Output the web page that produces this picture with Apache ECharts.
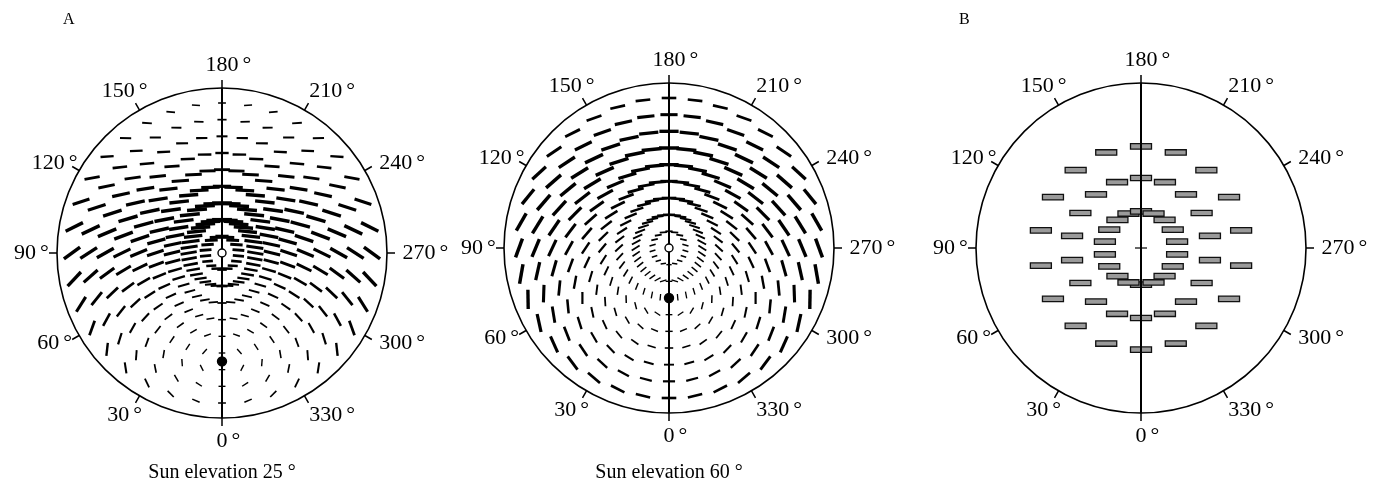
<!DOCTYPE html>
<html>
<head>
<meta charset="utf-8">
<script src="https://cdn.jsdelivr.net/npm/echarts@6/dist/echarts.min.js"></script>
<style>
  html, body { margin: 0; padding: 0; background: #fff; }
  #chart { width: 1379px; height: 488px; }
</style>
</head>
<body>
<div id="chart"></div>
<script>
// ---- data -------------------------------------------------------------
// Sun elevations (degrees) for the two modelled skies of panel A
const sunElevations = [25, 60];
// Zenith angles (degrees) of the sampling rings in panel A
const ringZenith = [10, 20, 30, 40, 50, 60, 70, 80, 90];
// Azimuths (degrees) sampled on the innermost ring, and on all other rings
const innerRingAzimuths = [0, 20, 40, 60, 80, 100, 120, 140, 160, 180, 200, 220, 240, 260, 280, 300, 320, 340];
const ringAzimuths = [0, 10, 20, 30, 40, 50, 60, 70, 80, 90, 100, 110, 120, 130, 140, 150, 160, 170,
  180, 190, 200, 210, 220, 230, 240, 250, 260, 270, 280, 290, 300, 310, 320, 330, 340, 350];
// Panel B: zenith angles of the three rings and the azimuths of their bars
const ringZenithB = [22, 42, 61];
const ringAzimuthsB = [0, 20, 40, 60, 80, 100, 120, 140, 160, 180, 200, 220, 240, 260, 280, 300, 320, 340];
// Azimuth tick labels round each sky dome
const tickAngles = [0, 30, 60, 90, 120, 150, 180, 210, 240, 270, 300, 330];
const panelLetters = ['A', 'B'];

// ---- layout -----------------------------------------------------------
const FONT = '"Liberation Serif", "Times New Roman", serif';
const domeCenters = [[222, 253], [669, 248], [1141, 248]];
const DOME_PX = 165;          // drawn rim radius in pixels
const RIM_DEG = 99;           // zenith angle at the rim (horizon at 90 sits inside)
const INNER_DASH_SCALE = 0.72; // dashes on the smallest ring are drawn shorter
const RAD = Math.PI / 180, DEG = 180 / Math.PI;

function toVec(z, a) {
  const zr = z * RAD, ar = a * RAD;
  return [Math.sin(zr) * Math.cos(ar), Math.sin(zr) * Math.sin(ar), Math.cos(zr)];
}
function toPolar(q) {
  const n = Math.hypot(q[0], q[1], q[2]);
  return [Math.acos(q[2] / n) * DEG, Math.atan2(q[1], q[0]) * DEG];
}
function cross(u, v) {
  return [u[1] * v[2] - u[2] * v[1], u[2] * v[0] - u[0] * v[2], u[0] * v[1] - u[1] * v[0]];
}

// E-vector dashes: perpendicular to the scattering plane, length and weight
// growing with the degree of polarization of single Rayleigh scattering.
function vectorSeries(polarIndex, elevation) {
  const zs = (90 - elevation) * RAD;
  const sun = [Math.sin(zs), 0, Math.cos(zs)];
  const data = [];
  ringZenith.forEach((z, k) => (k === 0 ? innerRingAzimuths : ringAzimuths).forEach(a => data.push([z, a])));
  const innerZ = ringZenith[0];
  return {
    type: 'custom', coordinateSystem: 'polar', polarIndex, data,
    silent: true, animation: false, z: 3,
    renderItem(params, api) {
      const z = api.value(0), a = api.value(1);
      const p = toVec(z, a);
      const cosg = p[0] * sun[0] + p[1] * sun[1] + p[2] * sun[2];
      const e = cross(p, sun);
      const n = Math.hypot(e[0], e[1], e[2]);
      if (n < 1e-6) return null;
      const dop = (1 - cosg * cosg) / (1 + cosg * cosg);
      const eps = 0.01;
      const q1 = [p[0] - eps * e[0] / n, p[1] - eps * e[1] / n, p[2] - eps * e[2] / n];
      const q2 = [p[0] + eps * e[0] / n, p[1] + eps * e[1] / n, p[2] + eps * e[2] / n];
      const c = api.coord([z, a]);
      const c1 = api.coord(toPolar(q1));
      const c2 = api.coord(toPolar(q2));
      let dx = c2[0] - c1[0], dy = c2[1] - c1[1];
      const m = Math.hypot(dx, dy);
      dx /= m; dy /= m;
      const scale = z === innerZ ? INNER_DASH_SCALE : 1;
      const half = (6.5 + 13.5 * dop) * scale / 2;
      return {
        type: 'line',
        shape: { x1: c[0] - dx * half, y1: c[1] - dy * half, x2: c[0] + dx * half, y2: c[1] + dy * half },
        style: { stroke: '#000', lineWidth: 1.3 + 2.2 * dop, lineCap: 'butt' }
      };
    }
  };
}

// Panel B: horizontal outlined bars on three rings
function barSeries(polarIndex) {
  const data = [];
  ringZenithB.forEach(z => ringAzimuthsB.forEach(a => data.push([z, a])));
  return {
    type: 'custom', coordinateSystem: 'polar', polarIndex, data,
    silent: true, animation: false, z: 3,
    renderItem(params, api) {
      const c = api.coord([api.value(0), api.value(1)]);
      return {
        type: 'rect',
        shape: { x: c[0] - 10.5, y: c[1] - 2.7, width: 21, height: 5.4 },
        style: { fill: '#9a9a9a', stroke: '#111', lineWidth: 1.3 }
      };
    }
  };
}

// Solar meridian drawn across the dome
function meridianSeries(polarIndex, withZenithTick) {
  return {
    type: 'custom', coordinateSystem: 'polar', polarIndex, data: [[0, 0]],
    silent: true, animation: false, z: 4,
    renderItem(params, api) {
      const b = api.coord([RIM_DEG, 0]);
      const t = api.coord([RIM_DEG, 180]);
      const c = api.coord([0, 0]);
      const children = [{
        type: 'line', shape: { x1: b[0], y1: b[1], x2: t[0], y2: t[1] },
        style: { stroke: '#000', lineWidth: 2 }
      }];
      if (withZenithTick) {
        children.push({
          type: 'line', shape: { x1: c[0] - 6, y1: c[1], x2: c[0] + 6, y2: c[1] },
          style: { stroke: '#000', lineWidth: 1.2 }
        });
      }
      return { type: 'group', children };
    }
  };
}

// Azimuth labels: digits centred on the anchor, degree sign trailing
function labelSeries(polarIndex) {
  return {
    type: 'custom', coordinateSystem: 'polar', polarIndex,
    data: tickAngles.map(a => [a]),
    silent: true, animation: false, z: 5,
    renderItem(params, api) {
      const a = api.value(0);
      const s = Math.abs(Math.sin(a * RAD));
      const rPx = 188 + 9 * s;
      const ang = a + 3 * Math.sin(2 * a * RAD);
      const p = api.coord([rPx / DOME_PX * RIM_DEG, ang]);
      const txt = String(a);
      const fs = 22;
      const w = txt.length * fs * 0.5;
      return {
        type: 'group',
        children: [
          { type: 'text', x: p[0], y: p[1],
            style: { text: txt, fill: '#000', fontFamily: FONT, fontSize: fs, align: 'center', verticalAlign: 'middle' } },
          { type: 'text', x: p[0] + w / 2 + 4, y: p[1],
            style: { text: '°', fill: '#000', fontFamily: FONT, fontSize: fs, align: 'left', verticalAlign: 'middle' } }
        ]
      };
    }
  };
}

function markerSeries(polarIndex, points, fill, size) {
  return {
    type: 'scatter', coordinateSystem: 'polar', polarIndex, data: points,
    symbol: 'circle', symbolSize: size, silent: true, animation: false, z: 6,
    itemStyle: { color: fill, borderColor: '#000', borderWidth: 1.4, opacity: 1 }
  };
}

const polar = domeCenters.map(c => ({ center: c, radius: DOME_PX }));
const angleAxis = domeCenters.map((c, i) => ({
  polarIndex: i, type: 'value', min: 0, max: 360, interval: 30,
  startAngle: 270, clockwise: true,
  axisLine: { show: true, lineStyle: { color: '#000', width: 1.6 } },
  axisTick: { show: true, inside: false, length: 8, lineStyle: { color: '#000', width: 1.5 } },
  axisLabel: { show: false }, splitLine: { show: false }
}));
const radiusAxis = domeCenters.map((c, i) => ({
  polarIndex: i, type: 'value', min: 0, max: RIM_DEG, show: false,
  axisLine: { show: false }, axisTick: { show: false }, axisLabel: { show: false }, splitLine: { show: false }
}));

const series = [];
sunElevations.forEach((elev, i) => {
  series.push(vectorSeries(i, elev));
  series.push(meridianSeries(i, false));
  series.push(labelSeries(i));
  series.push(markerSeries(i, [[0, 0]], '#fff', 8));
  series.push(markerSeries(i, [[90 - elev, 0]], '#000', 9));
});
series.push(barSeries(2));
series.push(meridianSeries(2, true));
series.push(labelSeries(2));

const graphic = [
  { type: 'text', left: 63, top: 12, style: { text: panelLetters[0], font: '16px ' + FONT, fill: '#000' } },
  { type: 'text', left: 959, top: 12, style: { text: panelLetters[1], font: '16px ' + FONT, fill: '#000' } }
];
sunElevations.forEach((elev, i) => {
  graphic.push({
    type: 'text', x: domeCenters[i][0], y: 473,
    style: { text: 'Sun elevation ' + elev + ' °', font: '20px ' + FONT, fill: '#000', align: 'center', verticalAlign: 'middle' }
  });
});

const chart = echarts.init(document.getElementById('chart'), null, { renderer: 'canvas' });
chart.setOption({
  animation: false,
  backgroundColor: '#fff',
  polar, angleAxis, radiusAxis, series, graphic
});
</script>
</body>
</html>
